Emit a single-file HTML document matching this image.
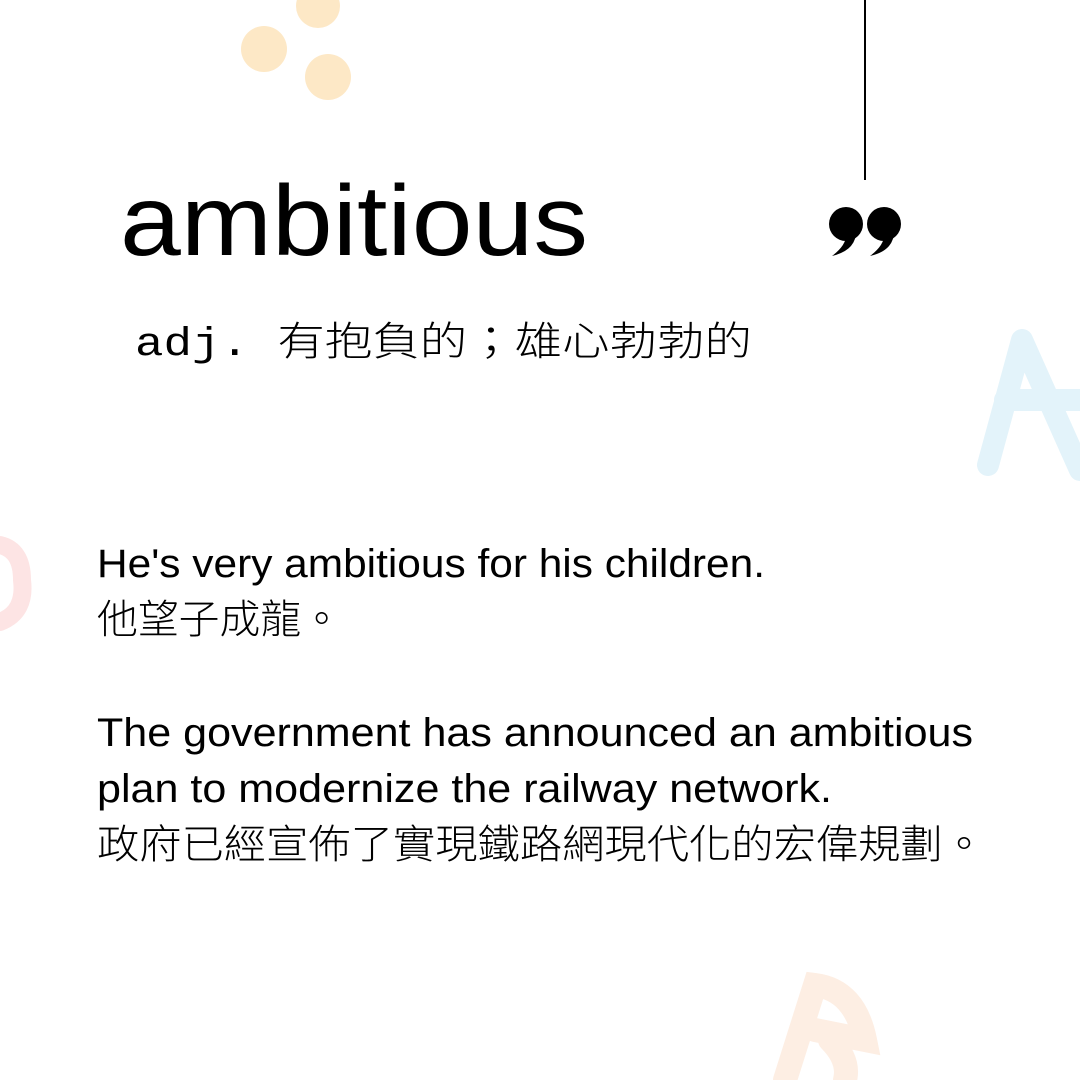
<!DOCTYPE html>
<html><head><meta charset="utf-8"><style>
html,body{margin:0;padding:0;background:#fff}
svg{display:block}
</style></head><body>
<svg width="1080" height="1080" viewBox="0 0 1080 1080" xmlns="http://www.w3.org/2000/svg">
<rect width="1080" height="1080" fill="#ffffff"/>
<g fill="#fde8c6">
<circle cx="264" cy="49" r="23"/>
<circle cx="318" cy="6" r="22"/>
<circle cx="328" cy="77" r="23"/>
</g>
<path d="M988 465 L1022 340 L1080 470 M1005 400 L1080 400" stroke="#e3f3fa" stroke-width="22" stroke-linecap="round" stroke-linejoin="round" fill="none"/>
<path d="M0 545 Q22 550 22 580 Q26 612 0 622" stroke="#fde4e4" stroke-width="18" stroke-linecap="round" fill="none"/>
<path d="M785 1080 L815 985 Q855 990 865 1040 L815 1030 M830 1040 Q850 1060 845 1080" stroke="#fdeee3" stroke-width="24" stroke-linecap="round" fill="none"/>
<line x1="865" y1="0" x2="865" y2="180" stroke="#000" stroke-width="2"/>
<g fill="#000">
<circle cx="846" cy="224" r="17"/><path d="M856 228 Q858 250 832 256 Q848 244 846 232 Z"/>
<circle cx="884" cy="224" r="17"/><path d="M894 228 Q896 250 870 256 Q886 244 884 232 Z"/>
</g>
<g font-family="'Liberation Sans','Noto Sans CJK TC',sans-serif" fill="#000">
<text x="120" y="255" font-size="100" textLength="468" lengthAdjust="spacingAndGlyphs">ambitious</text>
<text x="135" y="355" font-size="40" font-weight="300" textLength="617" lengthAdjust="spacingAndGlyphs"><tspan font-family="'Liberation Mono',monospace" font-weight="400">adj. </tspan>有抱負的；雄心勃勃的</text>
<text x="97" y="577" font-size="40" textLength="668" lengthAdjust="spacingAndGlyphs">He's very ambitious for his children.</text>
<text x="97" y="633" font-size="40" font-weight="300" textLength="245" lengthAdjust="spacingAndGlyphs">他望子成龍。</text>
<text x="97" y="746" font-size="40" textLength="876" lengthAdjust="spacingAndGlyphs">The government has announced an ambitious</text>
<text x="97" y="802" font-size="40" textLength="735" lengthAdjust="spacingAndGlyphs">plan to modernize the railway network.</text>
<text x="97" y="858" font-size="40" font-weight="300" textLength="888" lengthAdjust="spacingAndGlyphs">政府已經宣佈了實現鐵路網現代化的宏偉規劃。</text>
</g>
</svg>
</body></html>
